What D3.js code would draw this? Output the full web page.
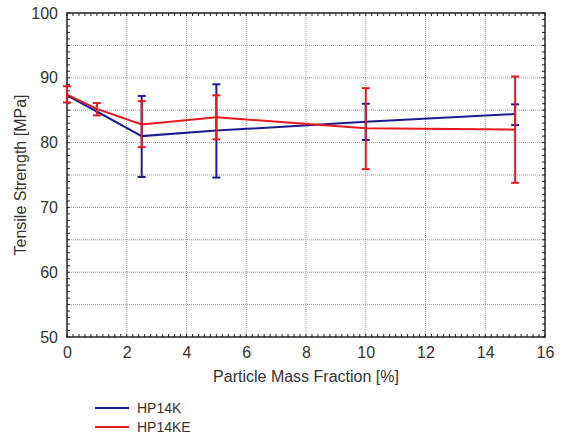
<!DOCTYPE html>
<html>
<head>
<meta charset="utf-8">
<script src="https://cdn.jsdelivr.net/npm/d3@7"></script>
<style>
  body { margin: 0; background: #fff; }
  text { font-family: "Liberation Sans", Arial, sans-serif; fill: #333; }
</style>
</head>
<body>
<div id="chart"></div>
<script>
// particle mass fraction [%]
var fractions = [0, 1, 2.5, 5, 10, 15];

// HP14K (blue) - no visible error bars at 0 and 1 %
var hp14kMean = [87.3, 84.8, 81.0, 81.85, 83.2, 84.4];
var hp14kHigh = [null, null, 87.2, 89.0, 86.0, 85.9];
var hp14kLow  = [null, null, 74.7, 74.6, 80.4, 82.7];

// HP14KE (red)
var hp14keMean = [87.4, 85.2, 82.8, 83.9, 82.2, 82.0];
var hp14keHigh = [88.7, 86.1, 86.4, 87.3, 88.4, 90.2];
var hp14keLow  = [86.2, 84.2, 79.3, 80.5, 75.9, 73.8];

var xTicks = [0, 2, 4, 6, 8, 10, 12, 14, 16];
var yTicks = [50, 60, 70, 80, 90, 100];
var seriesNames = ["HP14K", "HP14KE"];
var seriesColors = ["#1c1c8e", "#e8191e"];

var margin = { top: 13, right: 16, bottom: 104, left: 67 };
var width = 561 - margin.left - margin.right;
var height = 441 - margin.top - margin.bottom;

var svg = d3.select("#chart").append("svg")
    .attr("width", 561)
    .attr("height", 441);

var g = svg.append("g")
    .attr("transform", "translate(" + margin.left + "," + margin.top + ")");

var x = d3.scaleLinear().domain([0, 16]).range([0, width]);
var y = d3.scaleLinear().domain([50, 100]).range([height, 0]);

// dotted grid
g.selectAll(".vgrid")
    .data(xTicks.slice(1, -1))
    .enter().append("line")
    .attr("x1", d => x(d)).attr("x2", d => x(d))
    .attr("y1", 0).attr("y2", height)
    .attr("stroke", "#999").attr("stroke-width", 1)
    .attr("stroke-dasharray", "1,1");

g.selectAll(".hgrid")
    .data(d3.range(55, 100, 5))
    .enter().append("line")
    .attr("x1", 0).attr("x2", width)
    .attr("y1", d => y(d)).attr("y2", d => y(d))
    .attr("stroke", "#999").attr("stroke-width", 1)
    .attr("stroke-dasharray", "1,1");

// minor ticks pointing inwards, on all four sides
var xMinor = d3.range(0, 16.01, 0.2);
var yMinor = d3.range(50, 100.01, 1);

g.selectAll(".xm")
    .data(xMinor)
    .enter().append("line")
    .attr("x1", d => x(d)).attr("x2", d => x(d))
    .attr("y1", height).attr("y2", height - 3)
    .attr("stroke", "#222");
g.selectAll(".xmt")
    .data(xMinor)
    .enter().append("line")
    .attr("x1", d => x(d)).attr("x2", d => x(d))
    .attr("y1", 0).attr("y2", 3)
    .attr("stroke", "#222");
g.selectAll(".ym")
    .data(yMinor)
    .enter().append("line")
    .attr("x1", 0).attr("x2", 3)
    .attr("y1", d => y(d)).attr("y2", d => y(d))
    .attr("stroke", "#222");
g.selectAll(".ymr")
    .data(yMinor)
    .enter().append("line")
    .attr("x1", width).attr("x2", width - 3)
    .attr("y1", d => y(d)).attr("y2", d => y(d))
    .attr("stroke", "#222");

// frame
g.append("rect")
    .attr("width", width).attr("height", height)
    .attr("fill", "none").attr("stroke", "#222").attr("stroke-width", 1.5);

// axes
var xAxis = g.append("g")
    .attr("transform", `translate(0,${height})`)
    .call(d3.axisBottom(x).tickValues(xTicks).tickSize(0).tickPadding(10));
xAxis.select(".domain").remove();
xAxis.selectAll("text").style("font-size", "16px").attr("fill", "#333");

var yAxis = g.append("g")
    .call(d3.axisLeft(y).tickValues(yTicks).tickSize(0).tickPadding(9));
yAxis.select(".domain").remove();
yAxis.selectAll("text").style("font-size", "16px").attr("fill", "#333");

g.append("text")
    .attr("x", width / 2)
    .attr("y", height + 45)
    .attr("text-anchor", "middle")
    .style("font-size", "16px")
    .text("Particle Mass Fraction [%]");

g.append("text")
    .attr("transform", "rotate(-90)")
    .attr("x", -height / 2)
    .attr("y", -41)
    .attr("text-anchor", "middle")
    .style("font-size", "16px")
    .text("Tensile Strength [MPa]");

// series: line + error bars
var series = [
    { mean: hp14kMean, high: hp14kHigh, low: hp14kLow },
    { mean: hp14keMean, high: hp14keHigh, low: hp14keLow }
];

var line = d3.line()
    .x((d, i) => x(fractions[i]))
    .y(d => y(d));

series.forEach(function (s, k) {
    var color = seriesColors[k];
    var eg = g.append("g").attr("stroke", color).attr("stroke-width", 2);
    fractions.forEach(function (f, i) {
        if (s.high[i] == null) return;
        var cx = x(f);
        eg.append("line")
            .attr("x1", cx).attr("x2", cx)
            .attr("y1", y(s.high[i])).attr("y2", y(s.low[i]));
        [s.high[i], s.low[i]].forEach(function (v) {
            eg.append("line")
                .attr("x1", cx - 4).attr("x2", cx + 4)
                .attr("y1", y(v)).attr("y2", y(v));
        });
    });
    g.append("path")
        .datum(s.mean)
        .attr("fill", "none")
        .attr("stroke", color)
        .attr("stroke-width", 2)
        .attr("d", line);
});

// legend
var legend = svg.append("g")
    .attr("transform", "translate(95,408)");
seriesNames.forEach(function (name, i) {
    legend.append("line")
        .attr("x1", 0).attr("x2", 34)
        .attr("y1", i * 19).attr("y2", i * 19)
        .attr("stroke", seriesColors[i]).attr("stroke-width", 2);
    legend.append("text")
        .attr("x", 42).attr("y", i * 19 + 5)
        .style("font-size", "14px")
        .text(name);
});
</script>
</body>
</html>
